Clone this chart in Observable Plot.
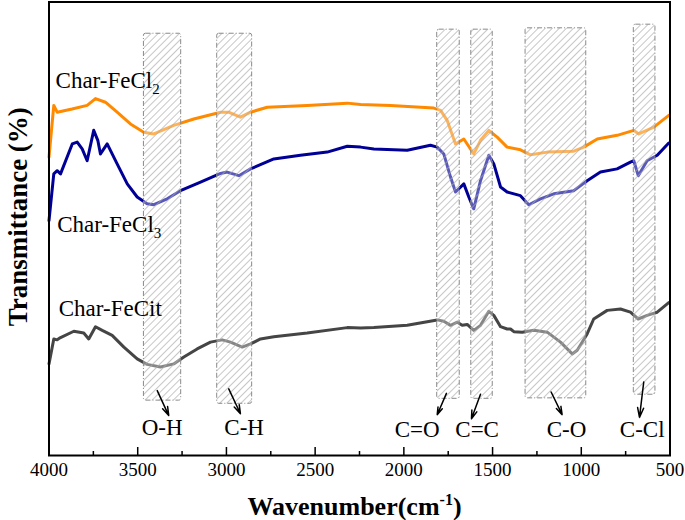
<!DOCTYPE html>
<html><head><meta charset="utf-8">
<script src="https://cdn.jsdelivr.net/npm/d3@7"></script>
<script src="https://cdn.jsdelivr.net/npm/@observablehq/plot@0.6"></script>
<style>body{margin:0;background:#fff}svg{display:block}</style>
</head><body><div id="chart"></div>
<script>
// ---- data (wavenumber cm-1, transmittance, arbitrary offset %) ----
const feCl2W = [4000,3973,3954,3870,3785,3738,3682,3616,3541,3466,3409,3297,3184,3033,2988,2921,2864,2770,2545,2319,2244,2075,1831,1793,1756,1709,1662,1606,1568,1521,1474,1418,1343,1286,1192,1042,986,910,798,704,676,591,507];
const feCl2T = [65.8,77.2,75.7,76.4,77.2,78.7,77.9,75.7,73.1,71.3,70.9,72.8,74.2,75.7,75.7,74.6,75.7,76.8,77.2,77.7,77.4,77.2,76.6,76.1,73.9,68.7,69.8,66.5,69.5,71.7,70.2,68.0,67.4,66.3,66.9,67.1,68.0,69.8,70.6,71.7,70.9,72.4,75.0];

const feCl3W = [4000,3973,3954,3935,3869,3841,3813,3785,3748,3725,3710,3672,3616,3559,3503,3447,3409,3334,3259,3146,3033,2996,2930,2864,2733,2583,2432,2319,2244,2169,1981,1850,1812,1775,1737,1709,1662,1634,1606,1568,1521,1493,1455,1418,1343,1296,1230,1155,1042,967,892,798,723,704,679,629,572,507];
const feCl3T = [51.8,62.1,62.8,62.1,68.7,69.1,67.6,65.0,71.7,69.5,66.5,68.7,64.3,59.9,57.0,55.5,55.3,56.6,58.4,60.3,62.2,62.5,61.7,63.2,65.4,66.2,66.9,68.2,68.0,67.6,67.3,68.4,68.0,66.5,61.4,58.1,59.9,57.0,54.4,60.6,66.2,64.3,59.2,58.1,57.3,55.3,56.6,57.7,58.4,60.6,62.5,63.2,64.7,65.0,61.7,65.0,66.2,68.9];

const feCitW = [4000,3973,3954,3935,3860,3804,3776,3738,3700,3644,3578,3503,3447,3372,3297,3240,3165,3090,3024,2977,2911,2864,2808,2733,2545,2319,2244,2169,1981,1812,1775,1737,1699,1671,1643,1606,1568,1521,1493,1455,1418,1399,1380,1333,1268,1192,1117,1051,1023,967,930,854,779,723,679,629,572,507];
const feCitT = [20.2,25.7,25.5,26.0,27.4,27.0,25.7,28.4,27.6,26.5,23.9,21.3,20.1,19.5,20.2,21.7,23.5,25.0,25.5,25.0,23.9,24.6,25.7,26.2,27.0,28.2,28.1,28.2,28.7,29.9,29.6,28.7,29.4,28.7,28.9,27.6,28.7,31.8,30.9,28.4,27.9,27.9,27.3,27.2,27.6,27.2,25.0,22.4,23.2,26.8,30.1,32.0,32.3,31.6,30.1,30.9,31.6,33.7];

// band annotations
const bandNames  = ["O-H","C-H","C=O","C=C","C-O","C-Cl"];
const bandHigh   = [3465,3052,1812,1620,1314,704];
const bandLow    = [3255,2855,1685,1499,972,582];
const bandTop    = [93.0,93.0,93.9,93.9,94.2,95.0];
const bandBottom = [12.1,11.4,12.5,12.5,12.6,13.4];
const arrowFromW = [3390,2987,1760,1568,1170,648];
const arrowFromT = [14.3,14.7,13.7,13.5,14.0,16.2];
const arrowToW   = [3325,2921,1812,1619,1108,672];
const arrowToT   = [8.8,9.2,9.0,8.1,9.0,8.4];
const labelW     = [3362,2900,1925,1587,1083,657];
const labelT     = [6.1,6.2,5.7,5.7,5.7,5.7];

// series labels
const seriesNames = ["Char-FeCl2","Char-FeCl3","Char-FeCit"];
const seriesLabelW = [3963,3954,3945];
const seriesLabelT = [82.7,50.8,32.3];

const majorTicks = [4000,3500,3000,2500,2000,1500,1000,500];
const minorTicks = [3750,3250,2750,2250,1750,1250,750];
const xTitle = "Wavenumber(cm-1)";
const yTitle = "Transmittance (%)";

// ---- build tables ----
const toRows = (W, T) => W.map((w, i) => ({w, t: T[i]}));
const feCl2 = toRows(feCl2W, feCl2T);
const feCl3 = toRows(feCl3W, feCl3T);
const feCit = toRows(feCitW, feCitT);
const bands = bandNames.map((name, i) => ({name, x1: bandHigh[i], x2: bandLow[i], y1: bandBottom[i], y2: bandTop[i],
  ax1: arrowFromW[i], ay1: arrowFromT[i], ax2: arrowToW[i], ay2: arrowToT[i], lx: labelW[i], ly: labelT[i]}));
const seriesLabels = seriesNames.map((name, i) => ({name, x: seriesLabelW[i], y: seriesLabelT[i]}));

const ns = "http://www.w3.org/2000/svg";
function hatchDefs() {
  const defs = document.createElementNS(ns, "defs");
  defs.innerHTML = `<pattern id="hatch" width="5" height="5" patternUnits="userSpaceOnUse" patternTransform="rotate(45)">
    <rect width="5" height="5" fill="rgba(255,255,255,0.35)"/>
    <line x1="0" y1="0" x2="0" y2="5" stroke="#a8a8a8" stroke-width="1.3"/>
  </pattern>`;
  return defs;
}

const chart = Plot.plot({
  width: 685, height: 520,
  marginLeft: 48.5, marginRight: 15.5, marginTop: 1.5, marginBottom: 65,
  style: {fontFamily: "'Liberation Serif', 'Times New Roman', serif", background: "#fff", color: "#000"},
  x: {domain: [4000, 500], label: null},
  y: {domain: [0, 100], axis: null, label: null},
  marks: [
    hatchDefs,
    Plot.line(feCl2, {x: "w", y: "t", stroke: "#ff8a00", strokeWidth: 3}),
    Plot.line(feCl3, {x: "w", y: "t", stroke: "#000096", strokeWidth: 3}),
    Plot.line(feCit, {x: "w", y: "t", stroke: "#454545", strokeWidth: 3}),
    Plot.rect(bands, {x1: "x1", x2: "x2", y1: "y1", y2: "y2", fill: "url(#hatch)", stroke: "#8a8a8a", strokeWidth: 1, strokeDasharray: "5,2,1,2", rx: 2}),
    Plot.arrow(bands, {x1: "ax1", y1: "ay1", x2: "ax2", y2: "ay2", stroke: "#000", strokeWidth: 1.5, headLength: 10, headAngle: 35}),
    Plot.text(bands, {x: "lx", y: "ly", text: "name", fontSize: 23, fill: "#000"}),
    Plot.text(seriesLabels, {x: "x", y: "y", text: "name", fontSize: 23, textAnchor: "start", fill: "#000"}),
    Plot.frame({stroke: "#000", strokeWidth: 2}),
    Plot.axisX(majorTicks, {tickSize: 0, tickPadding: 7, fontSize: 19, tickFormat: d => String(d)}),
    Plot.axisX(majorTicks, {tickSize: -8, strokeWidth: 1.5, tickFormat: () => ""}),
    Plot.axisX(minorTicks, {tickSize: -4, strokeWidth: 1.5, tickFormat: () => ""}),
    Plot.text([xTitle], {frameAnchor: "bottom", lineAnchor: "middle", textAnchor: "middle", dy: 51, dx: -5, text: d => d, fontSize: 26, fontWeight: "bold", fill: "#000"}),
    Plot.text([yTitle], {frameAnchor: "left", lineAnchor: "middle", textAnchor: "middle", rotate: -90, dx: -31, dy: -12, text: d => d, fontSize: 27, fontWeight: "bold", fill: "#000"})
  ]
});

// subscripts / superscripts
chart.querySelectorAll("text").forEach(t => {
  const s = t.textContent;
  const m = s.match(/^(Char-FeCl)([23])$/);
  if (m) {
    t.textContent = m[1];
    const ts = document.createElementNS(ns, "tspan");
    ts.setAttribute("dy", "6"); ts.setAttribute("font-size", "15");
    ts.textContent = m[2];
    t.appendChild(ts);
  } else if (s === xTitle) {
    t.textContent = "Wavenumber(cm";
    const sup = document.createElementNS(ns, "tspan");
    sup.setAttribute("dy", "-10"); sup.setAttribute("font-size", "16");
    sup.textContent = "-1";
    const close = document.createElementNS(ns, "tspan");
    close.setAttribute("dy", "10");
    close.textContent = ")";
    t.appendChild(sup); t.appendChild(close);
  }
});
document.getElementById("chart").appendChild(chart);
</script>
</body></html>
